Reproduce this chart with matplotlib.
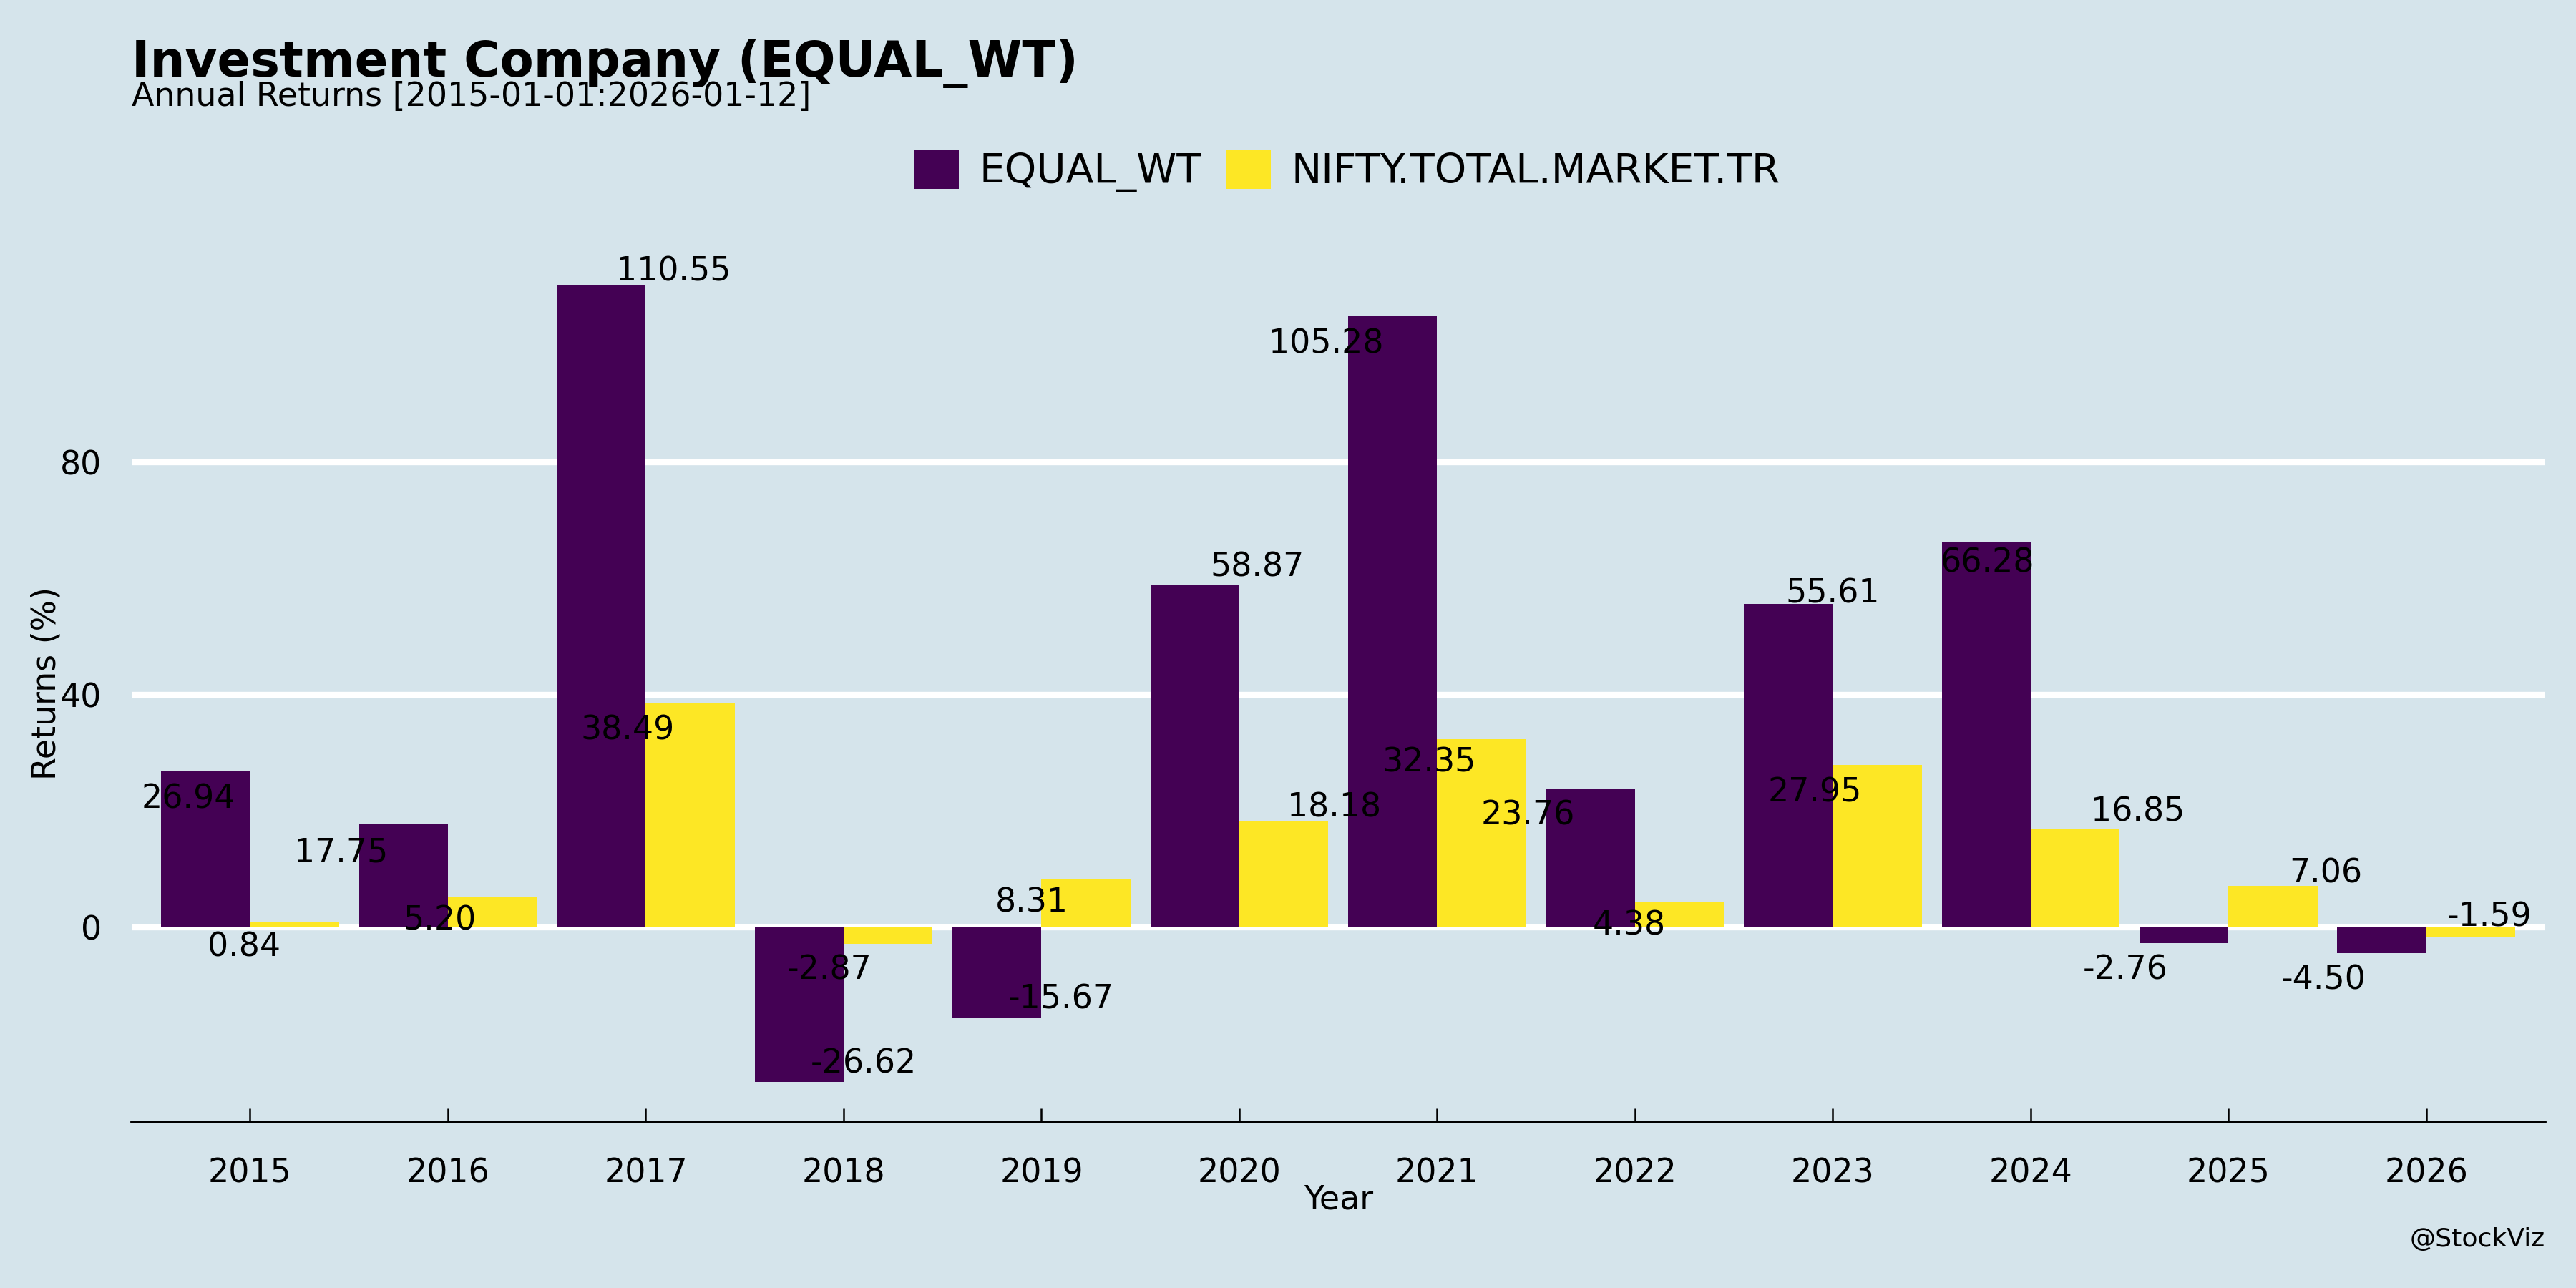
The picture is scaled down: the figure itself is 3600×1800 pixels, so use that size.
import matplotlib
matplotlib.use("Agg")
import matplotlib.pyplot as plt
import numpy as np

years = ["2015", "2016", "2017", "2018", "2019", "2020",
         "2021", "2022", "2023", "2024", "2025", "2026"]
equal_wt = [26.94, 17.75, 110.55, -26.62, -15.67, 58.87,
            105.28, 23.76, 55.61, 66.28, -2.76, -4.50]
nifty_tmtr = [0.84, 5.20, 38.49, -2.87, 8.31, 18.18,
              32.35, 4.38, 27.95, 16.85, 7.06, -1.59]

eq_lbl_dx = [-0.31, -0.54, 0.14, 0.10, 0.10, 0.09, -0.56, -0.54, 0.0, -0.22, -0.52, -0.52]
eq_lbl_dy = [-4.3, -4.4, 2.8, 3.7, 3.8, 3.6, -4.4, -4.0, 2.3, -3.0, -4.0, -4.0]
nf_lbl_dx = [-0.03, -0.04, -0.09, -0.07, -0.05, 0.48, -0.04, -0.03, -0.09, 0.54, 0.49, 0.32]
nf_lbl_dy = [-3.7, -3.5, -4.0, -3.9, -3.5, 3.0, -3.5, -3.5, -4.2, 3.5, 2.8, 3.9]

bg = "#d5e4eb"
c_eq = "#440154"
c_nf = "#FDE725"

fig = plt.figure(figsize=(12, 6), dpi=300, facecolor=bg)
ax = fig.add_axes([0.051, 0.129, 0.937, 0.681])
ax.set_facecolor(bg)

x = np.arange(len(years))
w = 0.45
ax.bar(x - w / 2, equal_wt, width=w, color=c_eq, label="EQUAL_WT", zorder=2)
ax.bar(x + w / 2, nifty_tmtr, width=w, color=c_nf, label="NIFTY.TOTAL.MARKET.TR", zorder=2)

for i in range(len(years)):
    ax.text(x[i] + eq_lbl_dx[i], equal_wt[i] + eq_lbl_dy[i], "%.2f" % equal_wt[i],
            ha="center", va="center_baseline", fontsize=11, zorder=3)
    ax.text(x[i] + nf_lbl_dx[i], nifty_tmtr[i] + nf_lbl_dy[i], "%.2f" % nifty_tmtr[i],
            ha="center", va="center_baseline", fontsize=11, zorder=3)

lo = min(min(equal_wt), min(nifty_tmtr), 0)
hi = max(max(equal_wt), max(nifty_tmtr), 0)
span = hi - lo
ax.set_ylim(lo - 0.05 * span, hi + 0.05 * span)
ax.set_xlim(-0.6, len(years) - 0.4)

ax.set_yticks([0, 40, 80])
ax.yaxis.grid(True, color="white", linewidth=2.0, zorder=1)
ax.set_axisbelow(True)
ax.set_xticks(x)
ax.set_xticklabels(years)

for s in ["top", "right", "left"]:
    ax.spines[s].set_visible(False)
ax.spines["bottom"].set_linewidth(0.9)
ax.spines["bottom"].set_color("black")

ax.tick_params(axis="x", direction="in", length=4.6, width=0.6, pad=12, labelsize=11)
ax.tick_params(axis="y", length=0, pad=10, labelsize=11)

ax.set_xlabel("Year", fontsize=11, labelpad=-2)
ax.set_ylabel("Returns (%)", fontsize=11, labelpad=-1)

fig.text(0.051, 0.9406, "Investment Company (EQUAL_WT)", fontsize=16.5, fontweight="bold",
         ha="left", va="baseline")
fig.text(0.051, 0.918, "Annual Returns [2015-01-01:2026-01-12]", fontsize=11,
         ha="left", va="baseline")

fig.legend(loc="center", bbox_to_anchor=(0.523, 0.867), ncol=2, frameon=False,
           fontsize=13.6, handlelength=1.1, handleheight=1.1, columnspacing=0.6,
           handletextpad=0.5)

fig.text(0.988, 0.038, "@StockViz", fontsize=8.7, ha="right", va="center")

fig.savefig("out.png", dpi=300, facecolor=bg)
